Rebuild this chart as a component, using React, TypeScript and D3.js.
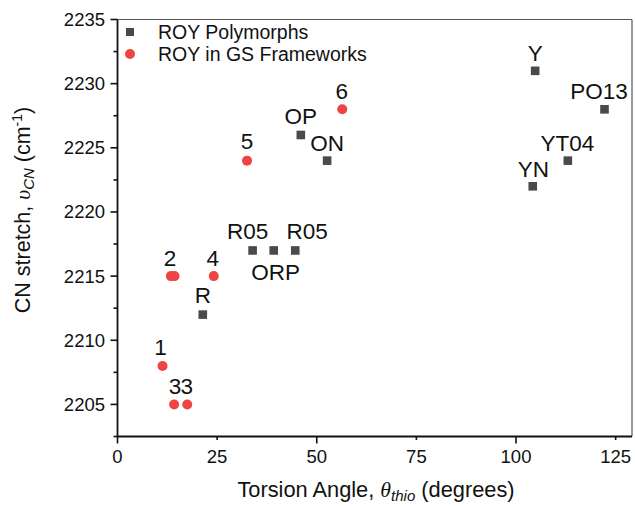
import React from "react";
import * as d3 from "d3";

const polyNames = ["R", "R05", "ORP", "R05", "OP", "ON", "Y", "PO13", "YT04", "YN"];
const polyAngle = [21.4, 33.9, 39.2, 44.6, 46.0, 52.6, 104.8, 122.2, 113.0, 104.2];
const polyCN = [2212, 2217, 2217, 2217, 2226, 2224, 2231, 2228, 2224, 2222];

const gsNames = ["1", "2", "", "4", "3", "3", "5", "6"];
const gsAngle = [11.3, 13.4, 14.3, 24.15, 14.2, 17.5, 32.5, 56.4];
const gsCN = [2208, 2215, 2215, 2215, 2205, 2205, 2224, 2228];

const xTicks = [0, 25, 50, 75, 100, 125];
const yTicks = [2205, 2210, 2215, 2220, 2225, 2230, 2235];
const yMinor = [2202.5, 2207.5, 2212.5, 2217.5, 2222.5, 2227.5, 2232.5];

// label offsets (px) relative to the marker
const polyLabelOff: [number, number][] = [
  [0, -12], [-5, -11], [2, 30], [12, -11], [0, -11], [0, -10],
  [0, -10], [-5.5, -10], [-0.5, -10], [0.5, -9],
];
const gsLabelOff: [number, number][] = [
  [-2, -11], [-1, -10], [0, 0], [-1, -10], [1, -10], [-0.5, -10], [0, -11.5], [-0.5, -10.5],
];

const W = 635, H = 506;
const L = 117.5, R = 632, T = 19.5, B = 436.5;
const FONT = "'Liberation Sans', Arial, sans-serif";
const GRAY = "#4a4a4a";
const RED = "#f04444";
const LABEL = 22.5;

export default function App() {
  const x = d3.scaleLinear().domain([0, 129.1]).range([L, R]);
  const y = d3.scaleLinear().domain([2202.5, 2235]).range([B, T]);

  return (
    <svg width={W} height={H} style={{ position: "absolute", left: 0, top: 0 }} fontFamily={FONT}>
      <rect width={W} height={H} fill="#fff" />
      {/* frame */}
      <line x1={L} x2={R} y1={T} y2={T} stroke="#555" strokeWidth={1.2} />
      <line x1={R} x2={R} y1={T} y2={B} stroke="#555" strokeWidth={1.2} />
      {/* axes */}
      <line x1={L} x2={R} y1={B} y2={B} stroke="#111" strokeWidth={1.8} />
      <line x1={L} x2={L} y1={T} y2={B} stroke="#111" strokeWidth={1.8} />
      {xTicks.map((t, i) => (
        <g key={"xt" + t}>
          <line x1={x(t)} x2={x(t)} y1={B} y2={B + (i % 2 === 0 ? 7 : 3.5)} stroke="#111" strokeWidth={1.6} />
          <text x={x(t)} y={463} fontSize={18.5} textAnchor="middle" fill="#111">{t}</text>
        </g>
      ))}
      {yTicks.map((t) => (
        <g key={"yt" + t}>
          <line x1={L} x2={L - 7} y1={y(t)} y2={y(t)} stroke="#111" strokeWidth={1.6} />
          <text x={105} y={y(t) + 6.5} fontSize={18.5} textAnchor="end" fill="#111">{t}</text>
        </g>
      ))}
      {yMinor.map((t) => (
        <line key={"ym" + t} x1={L} x2={L - 4} y1={y(t)} y2={y(t)} stroke="#111" strokeWidth={1.6} />
      ))}
      {/* axis titles */}
      <text x={376} y={497} fontSize={21.8} textAnchor="middle" fill="#111">
        Torsion Angle, <tspan fontFamily="'Liberation Serif', serif" fontStyle="italic">θ</tspan>
        <tspan fontStyle="italic" fontSize={15} dy={4}>thio</tspan>
        <tspan dy={-4}> (degrees)</tspan>
      </text>
      <text transform={`translate(30,210) rotate(-90)`} fontSize={21.5} textAnchor="middle" fill="#111">
        CN stretch, <tspan fontFamily="'Liberation Serif', serif" fontStyle="italic">υ</tspan>
        <tspan fontStyle="italic" fontSize={15} dy={4}>CN</tspan>
        <tspan dy={-4}> (cm</tspan>
        <tspan fontSize={14} dy={-8}>-1</tspan>
        <tspan dy={8}>)</tspan>
      </text>
      {/* polymorph markers */}
      {polyAngle.map((a, i) => (
        <rect key={"p" + i} x={x(a) - 4.3} y={y(polyCN[i]) - 4.3} width={8.6} height={8.6} fill={GRAY} />
      ))}
      {gsAngle.map((a, i) => (
        <circle key={"g" + i} cx={x(a)} cy={y(gsCN[i])} r={5} fill={RED} />
      ))}
      {/* labels */}
      {polyNames.map((n, i) => (
        <text key={"pl" + i} x={x(polyAngle[i]) + polyLabelOff[i][0]} y={y(polyCN[i]) + polyLabelOff[i][1]}
          fontSize={LABEL} textAnchor="middle" fill="#111">{n}</text>
      ))}
      {gsNames.map((n, i) => n ? (
        <text key={"gl" + i} x={x(gsAngle[i]) + gsLabelOff[i][0]} y={y(gsCN[i]) + gsLabelOff[i][1]}
          fontSize={LABEL} textAnchor="middle" fill="#111">{n}</text>
      ) : null)}
      {/* legend */}
      <rect x={130 - 4} y={32 - 4} width={8} height={8} fill={GRAY} />
      <text x={158} y={38.5} fontSize={19.5} fill="#111">ROY Polymorphs</text>
      <circle cx={130} cy={54} r={5} fill={RED} />
      <text x={158} y={60.5} fontSize={19.5} fill="#111">ROY in GS Frameworks</text>
    </svg>
  );
}
